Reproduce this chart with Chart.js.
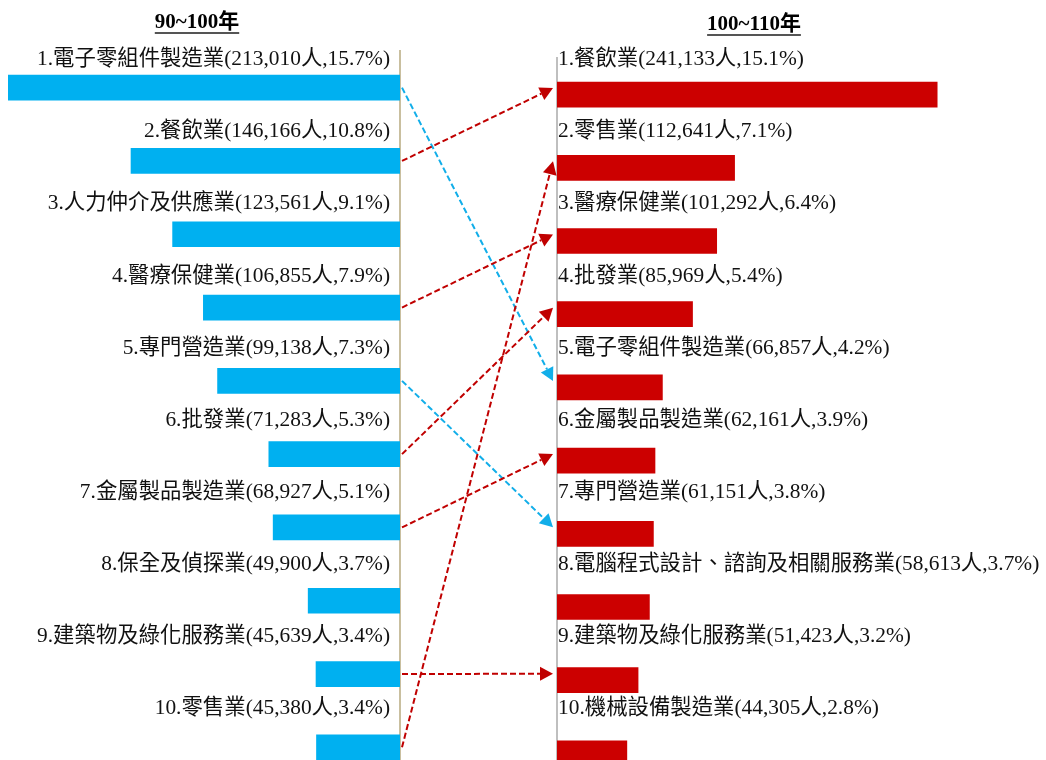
<!DOCTYPE html>
<html>
<head>
<meta charset="utf-8">
<script src="https://cdn.jsdelivr.net/npm/chart.js@4.4.1/dist/chart.umd.min.js"></script>
<style>
  html, body { margin: 0; padding: 0; background: #fff; overflow: hidden; }
  #wrap { position: relative; width: 1046px; height: 760px; overflow: hidden; }
  canvas { position: absolute; top: 0; }
  #leftCanvas { left: 0; }
  #rightCanvas { left: 400px; }
  .title {
    position: absolute; top: 4px; font: bold 21px "Liberation Serif", "Noto Sans CJK TC", serif;
    color: #000; text-decoration: underline; text-decoration-color: #555;
    text-decoration-thickness: 2px; text-underline-offset: 4px; white-space: nowrap;
    transform: translateX(-50%);
  }
</style>
</head>
<body>
<div id="wrap">
  <canvas id="leftCanvas" width="404" height="800"></canvas>
  <canvas id="rightCanvas" width="646" height="800"></canvas>
  <div class="title" style="left:197px">90~100年</div>
  <div class="title" style="left:754px;top:6px">100~110年</div>
</div>
<script>
// 資料：90~100年
const leftCats = ['電子零組件製造業', '餐飲業', '人力仲介及供應業', '醫療保健業', '專門營造業',
  '批發業', '金屬製品製造業', '保全及偵探業', '建築物及綠化服務業', '零售業'];
const leftValues = [213010, 146166, 123561, 106855, 99138, 71283, 68927, 49900, 45639, 45380];
const leftPct = ['15.7', '10.8', '9.1', '7.9', '7.3', '5.3', '5.1', '3.7', '3.4', '3.4'];

// 資料：100~110年
const rightCats = ['餐飲業', '零售業', '醫療保健業', '批發業', '電子零組件製造業',
  '金屬製品製造業', '專門營造業', '電腦程式設計、諮詢及相關服務業', '建築物及綠化服務業', '機械設備製造業'];
const rightValues = [241133, 112641, 101292, 85969, 66857, 62161, 61151, 58613, 51423, 44305];
const rightPct = ['15.1', '7.1', '6.4', '5.4', '4.2', '3.9', '3.8', '3.7', '3.2', '2.8'];

// 排名變動箭頭 [左邊索引, 右邊索引, 顏色]
const links = [
  [0, 4, 'blue'], [1, 0, 'red'], [3, 2, 'red'], [4, 6, 'blue'],
  [5, 3, 'red'], [6, 5, 'red'], [8, 8, 'red'], [9, 1, 'red']
];

const BLUE = '#00b0f0';
const RED = '#cc0000';
const FONT = '21.4px "Liberation Serif", "Noto Sans CJK TC", serif';

function makeLabels(cats, values, pct) {
  return cats.map((c, i) => `${i + 1}.${c}(${values[i].toLocaleString('en-US')}人,${pct[i]}%)`);
}

// 長條上方的文字標籤（文字行距比長條略小）
const labelPlugin = {
  id: 'barLabels',
  afterDatasetsDraw(chart, args, opts) {
    const meta = chart.getDatasetMeta(0);
    const ctx = chart.ctx;
    ctx.save();
    ctx.font = FONT;
    ctx.fillStyle = '#111';
    ctx.textBaseline = 'middle';
    ctx.textAlign = opts.align;
    meta.data.forEach((bar, i) => {
      const top = bar.y - bar.height / 2;
      ctx.fillText(opts.texts[i], bar.base + opts.dx, top + opts.dy - i * opts.drift);
    });
    ctx.restore();
  }
};

function baseOptions(pad, reverse, max, borderColor, labelOpts) {
  return {
    indexAxis: 'y',
    responsive: false,
    animation: false,
    layout: { padding: pad },
    plugins: {
      legend: { display: false },
      tooltip: { enabled: false },
      barLabels: labelOpts
    },
    scales: {
      x: { display: false, reverse: reverse, min: 0, max: max },
      y: {
        position: reverse ? 'right' : 'left',
        grid: { display: false, drawTicks: false },
        ticks: { display: false },
        border: { display: true, color: borderColor, width: 2 }
      }
    }
  };
}

const leftChart = new Chart(document.getElementById('leftCanvas'), {
  type: 'bar',
  data: { labels: leftCats, datasets: [{ data: leftValues, backgroundColor: BLUE, barThickness: 25 }] },
  options: baseOptions({ left: 8, right: 4, top: 51, bottom: 16 }, true, Math.max(...leftValues), '#c9bf9f',
    { align: 'right', dx: -10, dy: -15.5, drift: 1.2, texts: makeLabels(leftCats, leftValues, leftPct) }),
  plugins: [labelPlugin]
});

// 箭頭（畫在右邊圖表的畫布上，座標取自兩張圖表的長條）
const arrowPlugin = {
  id: 'arrows',
  afterDatasetsDraw(chart) {
    const lMeta = leftChart.getDatasetMeta(0);
    const rMeta = chart.getDatasetMeta(0);
    const shift = chart.canvas.offsetLeft - leftChart.canvas.offsetLeft;
    const ctx = chart.ctx;
    ctx.save();
    links.forEach(([from, to, col]) => {
      const a = lMeta.data[from];
      const b = rMeta.data[to];
      const color = col === 'blue' ? '#12aee9' : '#c00000';
      const x1 = a.base + 2 - shift, y1 = a.y;
      const x2 = b.base - 4, y2 = b.y - b.height / 2 + 6;
      const ang = Math.atan2(y2 - y1, x2 - x1);
      const head = 13;
      const ex = x2 - Math.cos(ang) * head, ey = y2 - Math.sin(ang) * head;
      ctx.strokeStyle = color;
      ctx.lineWidth = 2;
      ctx.setLineDash([6, 3]);
      ctx.beginPath();
      ctx.moveTo(x1, y1);
      ctx.lineTo(ex, ey);
      ctx.stroke();
      ctx.setLineDash([]);
      ctx.fillStyle = color;
      ctx.beginPath();
      ctx.moveTo(x2, y2);
      ctx.lineTo(ex + Math.sin(ang) * 7, ey - Math.cos(ang) * 7);
      ctx.lineTo(ex - Math.sin(ang) * 7, ey + Math.cos(ang) * 7);
      ctx.closePath();
      ctx.fill();
    });
    ctx.restore();
  }
};

const rightChart = new Chart(document.getElementById('rightCanvas'), {
  type: 'bar',
  data: { labels: rightCats, datasets: [{ data: rightValues, backgroundColor: RED, barThickness: 25 }] },
  options: baseOptions({ left: 157, right: 16, top: 58, bottom: 10 }, false, 300000, '#bfbfbf',
    { align: 'left', dx: 1, dy: -22.5, drift: 1.1, texts: makeLabels(rightCats, rightValues, rightPct) }),
  plugins: [labelPlugin, arrowPlugin]
});
</script>
</body>
</html>
